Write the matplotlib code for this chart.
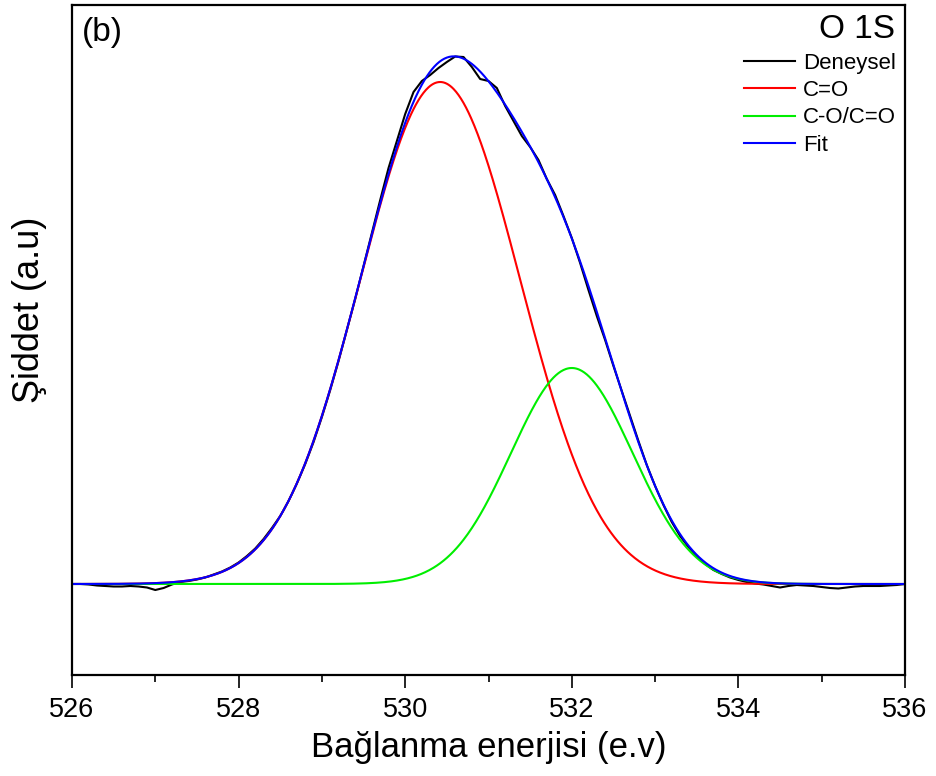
import numpy as np
import matplotlib
matplotlib.use("Agg")
import matplotlib.pyplot as plt

plt.rcParams['font.family'] = ['Liberation Sans', 'DejaVu Sans']

# ---- data ----
energy_start, energy_stop, energy_step = 526.0, 536.0, 0.1
deneysel = [0, 0, -0.5, -1.5, -2, -2.5, -2.5, -2, -2.5, -3.5,
            -6, -4, -0.5, 2, 3, 4.5, 6.5, 9.5, 12.5, 16.5,
            21.5, 28, 35.5, 45, 56, 68, 83, 100.5, 120, 142,
            167, 194, 223, 254, 285, 318, 351, 384, 416, 443,
            470, 492, 503, 509, 516, 522, 527.5, 527, 517, 505,
            503, 496, 478, 463, 448, 437, 424, 405, 389, 368,
            346, 321, 294, 268, 244, 218, 193, 168, 143, 119,
            98, 79, 62, 48, 37, 28, 20, 14, 10, 6.5,
            4, 2, 0.5, -0.5, -2, -3.5, -2, -1, -1.5, -2,
            -3, -4, -4.5, -3.5, -2.5, -2, -2, -2, -1.5, -1,
            0]

# fitted components (Gaussian peaks): centre (eV), height (a.u.), sigma (eV)
peak_labels = ['C=O', 'C-O/C=O']
peak_centers = [530.42, 532.0]
peak_heights = [502, 216]
peak_sigmas = [0.96, 0.73]

legend_labels = ['Deneysel', 'C=O', 'C-O/C=O', 'Fit']
x_ticks = [526, 528, 530, 532, 534, 536]

energy = np.linspace(energy_start, energy_stop, len(deneysel))
xf = np.linspace(energy_start, energy_stop, 1001)
comps = [h * np.exp(-(xf - c) ** 2 / (2 * s ** 2))
         for c, h, s in zip(peak_centers, peak_heights, peak_sigmas)]
fit = comps[0] + comps[1]

W, H = 937, 776
fig = plt.figure(figsize=(W / 100, H / 100), dpi=100)
ax = fig.add_axes([72 / W, 1 - 675 / H, (905 - 72) / W, (675 - 5) / H])

lw = 1.5
ax.plot(energy, deneysel, color='black', lw=lw, label=legend_labels[0])
ax.plot(xf, comps[0], color='#ff0000', lw=lw, label=legend_labels[1])
ax.plot(xf, comps[1], color='#00ee00', lw=lw, label=legend_labels[2])
ax.plot(xf, fit, color='#0000ff', lw=lw, label=legend_labels[3])

ax.set_xlim(526, 536)
ax.set_ylim(-91, 579)
ax.set_xticks(x_ticks)
ax.set_xticks(np.arange(527, 536, 2), minor=True)
ax.set_yticks([])
ax.tick_params(axis='x', which='major', direction='out', length=9, width=1.2,
               labelsize=19.5, pad=7)
ax.tick_params(axis='x', which='minor', direction='out', length=5, width=1.2)
for sp in ax.spines.values():
    sp.set_linewidth(1.6)

ax.set_xlabel('Bağlanma enerjisi (e.v)', fontsize=25)
ax.xaxis.set_label_coords(0.5, -0.083)
ax.set_ylabel('Şiddet (a.u)', fontsize=26)
ax.yaxis.set_label_coords(-0.03, 0.545)

ax.text(0.012, 0.982, '(b)', transform=ax.transAxes, fontsize=24,
        ha='left', va='top')
ax.text(0.988, 0.986, 'O 1S', transform=ax.transAxes, fontsize=24,
        ha='right', va='top')

leg = ax.legend(loc='upper left', bbox_to_anchor=(744 / W, 1 - 53 / H),
                bbox_transform=fig.transFigure, frameon=False, fontsize=16,
                handlelength=2.3, handletextpad=0.35, labelspacing=0.28,
                borderpad=0, borderaxespad=0)

fig.savefig('out.png', dpi=100)
